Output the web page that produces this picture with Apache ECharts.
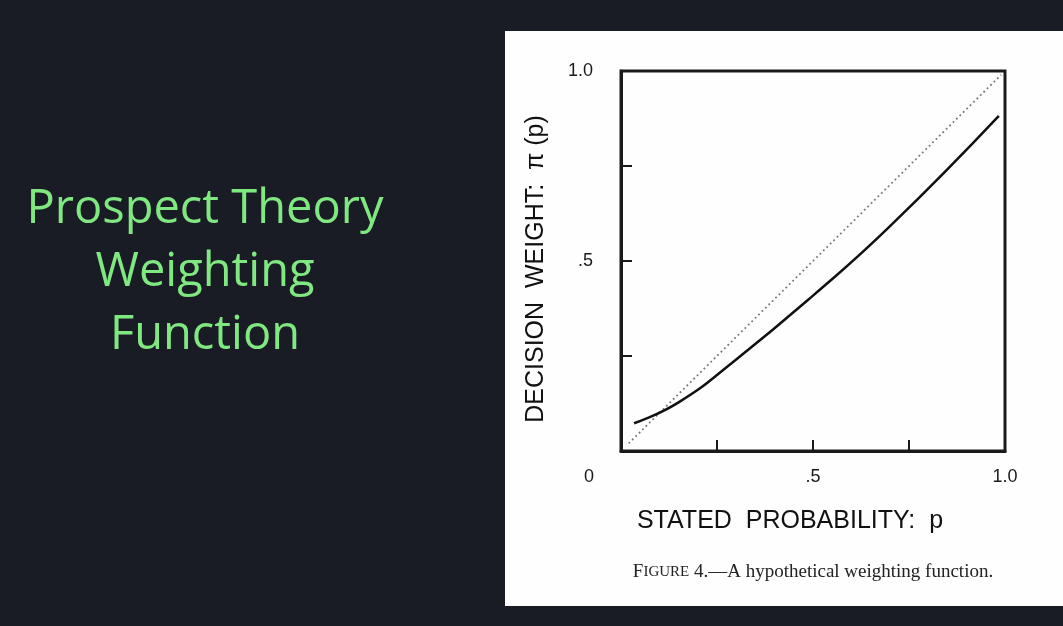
<!DOCTYPE html>
<html>
<head>
<meta charset="utf-8">
<script src="https://cdn.jsdelivr.net/npm/echarts@6/dist/echarts.min.js"></script>
<style>
html,body{margin:0;padding:0;background:#1a1c25;}
#chart{width:1063px;height:626px;}
</style>
</head>
<body>
<div id="chart"></div>
<script>
// Stated probability p and decision weight pi(p)
const probability = [0.034, 0.15, 0.30, 0.50, 0.70, 0.984];
const decisionWeight = [0.073, 0.128, 0.241, 0.409, 0.591, 0.882];
// Reference diagonal (pi(p) = p), dotted
const diagonalP = [0.02, 0.99];
const diagonalW = [0.02, 0.99];
const xTickLabels = {0.5: '.5', 1: '1.0'};
const yTickLabels = {0.5: '.5', 1: '1.0'};
const titleLines = ['Prospect Theory', 'Weighting', 'Function'];

const chart = echarts.init(document.getElementById('chart'));
const font = '"Liberation Sans", Arial, sans-serif';
const option = {
  backgroundColor: '#1a1c25',
  animation: false,
  graphic: [
    {type: 'rect', z: -10, shape: {x: 505, y: 31, width: 560, height: 575}, style: {fill: '#fefefe'}},
    {type: 'text', x: 205, y: 273, style: {
      text: titleLines.join('\n'), align: 'center', verticalAlign: 'middle',
      font: '47px "Open Sans", Lato, sans-serif', lineHeight: 63, fill: '#80e880'
    }},
    {type: 'text', x: 589, y: 477, style: {text: '0', font: '18px ' + font, fill: '#1a1a1a', align: 'center', verticalAlign: 'middle'}},
    {type: 'text', x: 813, y: 572, style: {
      text: '{a|F}{b|IGURE} 4.—A hypothetical weighting function.',
      align: 'center', verticalAlign: 'middle',
      rich: {
        a: {fontFamily: '"Liberation Serif", serif', fontSize: 19, fill: '#222'},
        b: {fontFamily: '"Liberation Serif", serif', fontSize: 15, fill: '#222'}
      },
      font: '19px "Liberation Serif", serif', fill: '#222'
    }}
  ],
  grid: {left: 621, top: 71, width: 384, height: 380, show: true, borderColor: '#1a1a1a', borderWidth: 3, backgroundColor: 'transparent'},
  xAxis: {
    type: 'value', min: 0, max: 1, interval: 0.25,
    name: 'STATED  PROBABILITY:  p', nameLocation: 'middle', nameGap: 58,
    nameTextStyle: {fontFamily: font, fontSize: 25, color: '#111', padding: [0, 46, 0, 0]},
    axisLine: {show: true, lineStyle: {color: '#1a1a1a', width: 3}},
    axisTick: {show: true, inside: true, length: 11, lineStyle: {color: '#1a1a1a', width: 2}},
    splitLine: {show: false},
    axisLabel: {margin: 17, fontFamily: font, fontSize: 18, color: '#1a1a1a',
      formatter: v => xTickLabels[v] || ''}
  },
  yAxis: {
    type: 'value', min: 0, max: 1, interval: 0.25,
    name: 'DECISION  WEIGHT:  π (p)', nameLocation: 'middle', nameGap: 72, nameRotate: 90,
    nameTextStyle: {fontFamily: font, fontSize: 25, color: '#111', padding: [0, 16, 0, 0]},
    axisLine: {show: true, lineStyle: {color: '#1a1a1a', width: 3}},
    axisTick: {show: true, inside: true, length: 11, lineStyle: {color: '#1a1a1a', width: 2}},
    splitLine: {show: false},
    axisLabel: {margin: 28, fontFamily: font, fontSize: 18, color: '#1a1a1a',
      formatter: v => yTickLabels[v] || ''}
  },
  series: [
    {type: 'line', data: diagonalP.map((p, i) => [p, diagonalW[i]]), symbol: 'none',
      lineStyle: {color: '#7a7a7a', width: 1.8, type: [1.8, 3]}},
    {type: 'line', data: probability.map((p, i) => [p, decisionWeight[i]]), symbol: 'none',
      smooth: 0.5,
      lineStyle: {color: '#111', width: 2.5}}
  ]
};
chart.setOption(option);
</script>
</body>
</html>
